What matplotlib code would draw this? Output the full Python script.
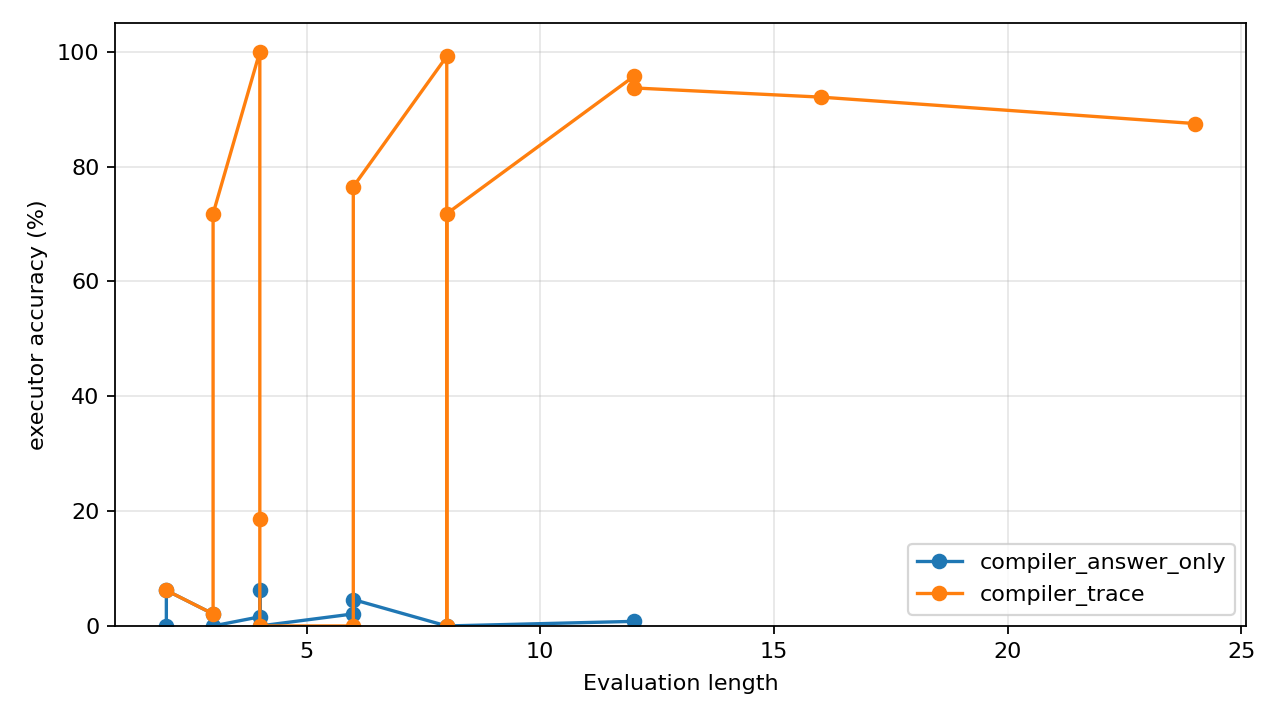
import matplotlib
matplotlib.use("Agg")
import matplotlib.pyplot as plt

# Evaluation lengths and accuracies (in plotting order, several runs per length)
answer_only_len = [2, 2, 3, 3, 4, 4, 4, 6, 6, 8, 12]
answer_only_acc = [0.0, 6.2, 2.1, 0.0, 1.6, 6.2, 0.0, 2.1, 4.6, 0.0, 0.8]

trace_len = [2, 3, 3, 4, 4, 4, 6, 6, 8, 8, 8, 12, 12, 16, 24]
trace_acc = [6.2, 2.1, 71.8, 100.0, 18.7, 0.0, 0.0, 76.5, 99.2, 0.0, 71.8,
             95.7, 93.7, 92.1, 87.5]

fig, ax = plt.subplots(figsize=(8, 4.5), dpi=160)

ax.plot(answer_only_len, answer_only_acc, marker="o", label="compiler_answer_only")
ax.plot(trace_len, trace_acc, marker="o", label="compiler_trace")

ax.set_xlabel("Evaluation length", labelpad=5.5)
ax.set_ylabel("executor accuracy (%)")
ax.set_ylim(0, 105)
ax.grid(alpha=0.3)
ax.legend(loc="lower right")

# Margins matched to the reference layout
plt.subplots_adjust(left=0.0898, right=0.9734, top=0.968, bottom=0.1306)
plt.savefig("out.png")
